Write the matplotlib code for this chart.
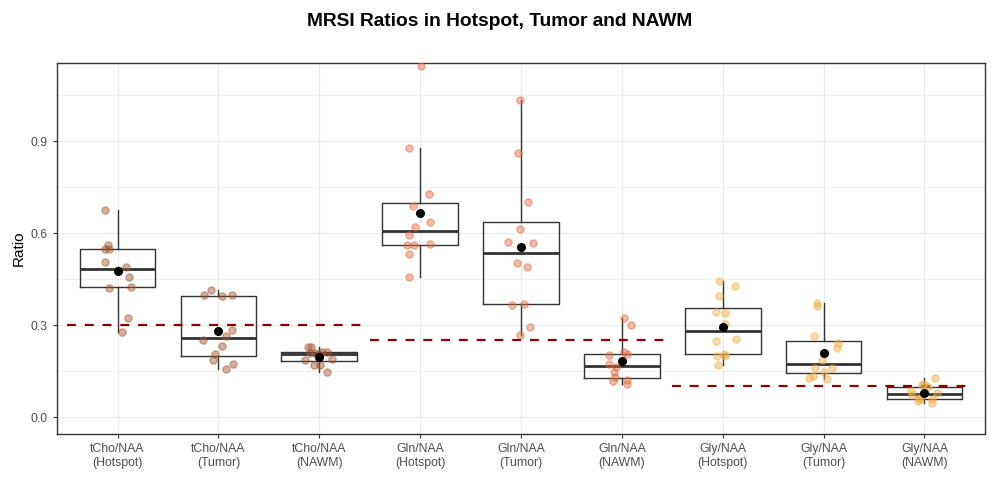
import numpy as np
import matplotlib
matplotlib.use('Agg')
from matplotlib import pyplot as plt

plt.rcParams['font.family'] = ['Liberation Sans', 'DejaVu Sans']

# categories (x tick labels)
labels = ['tCho/NAA\n(Hotspot)', 'tCho/NAA\n(Tumor)', 'tCho/NAA\n(NAWM)',
          'Gln/NAA\n(Hotspot)', 'Gln/NAA\n(Tumor)', 'Gln/NAA\n(NAWM)',
          'Gly/NAA\n(Hotspot)', 'Gly/NAA\n(Tumor)', 'Gly/NAA\n(NAWM)']

# ratio values per group
tcho_hotspot = [0.674, 0.561, 0.548, 0.548, 0.505, 0.489, 0.457, 0.421,
                0.424, 0.323, 0.279, 0.480]
tcho_tumor = [0.414, 0.398, 0.395, 0.398, 0.284, 0.264, 0.251, 0.232,
              0.205, 0.186, 0.173, 0.157]
tcho_nawm = [0.230, 0.230, 0.210, 0.209, 0.211, 0.211, 0.187, 0.191,
             0.169, 0.169, 0.146, 0.205]
gln_hotspot = [1.146, 0.878, 0.728, 0.689, 0.637, 0.621, 0.595, 0.560,
               0.562, 0.565, 0.533, 0.458]
gln_tumor = [1.035, 0.862, 0.702, 0.615, 0.572, 0.569, 0.503, 0.490,
             0.366, 0.369, 0.295, 0.269]
gln_nawm = [0.322, 0.302, 0.213, 0.205, 0.203, 0.172, 0.164, 0.148,
            0.131, 0.118, 0.122, 0.109]
gly_hotspot = [0.445, 0.428, 0.396, 0.344, 0.340, 0.304, 0.249, 0.256,
               0.200, 0.207, 0.200, 0.171]
gly_tumor = [0.371, 0.364, 0.265, 0.243, 0.226, 0.187, 0.161, 0.161,
             0.148, 0.135, 0.128, 0.125]
gly_nawm = [0.128, 0.109, 0.104, 0.084, 0.080, 0.072, 0.063, 0.059,
            0.053, 0.060, 0.047, 0.098]

groups = [tcho_hotspot, tcho_tumor, tcho_nawm, gln_hotspot, gln_tumor,
          gln_nawm, gly_hotspot, gly_tumor, gly_nawm]

# horizontal jitter of each point as seen in the figure (category units)
jitter = [
    [-0.12, -0.09, -0.12, -0.08, -0.12, 0.08, 0.11, -0.08, 0.13, 0.10, 0.04, 0.0],
    [-0.07, -0.14, 0.04, 0.13, 0.13, 0.08, -0.15, 0.04, -0.03, -0.05, 0.14, 0.08],
    [-0.11, -0.08, -0.09, -0.04, 0.03, 0.08, -0.14, 0.13, -0.05, 0.01, 0.08, 0.0],
    [0.01, -0.11, 0.09, -0.07, 0.10, -0.05, -0.11, -0.13, -0.06, 0.10, -0.11, -0.11],
    [-0.01, -0.03, 0.07, -0.01, -0.13, 0.12, -0.04, 0.06, -0.09, 0.03, 0.09, -0.01],
    [0.02, 0.09, 0.02, 0.05, -0.13, -0.13, -0.06, -0.08, -0.07, -0.09, 0.05, 0.05],
    [-0.04, 0.12, -0.04, -0.07, 0.02, 0.02, -0.07, 0.13, -0.06, 0.01, 0.02, -0.05],
    [-0.07, -0.07, -0.10, 0.14, 0.13, -0.02, -0.09, 0.08, 0.0, -0.11, -0.14, 0.03],
    [0.10, 0.0, -0.02, -0.13, 0.12, -0.12, -0.05, -0.04, -0.06, 0.07, 0.07, 0.03],
]

metabolite_colors = ['#A0522D', '#E0693F', '#EDAD40']

# reference (NAWM-like) threshold lines per metabolite
ref_levels = [0.30, 0.25, 0.10]

fig, ax = plt.subplots(figsize=(10, 5), dpi=100)
fig.subplots_adjust(left=0.057, right=0.985, bottom=0.132, top=0.874)

pos = np.arange(1, len(groups) + 1)
ax.boxplot(groups, positions=pos, widths=0.75, showfliers=False,
           showcaps=False, whis=1.5,
           boxprops=dict(color='#333333', linewidth=1.0),
           whiskerprops=dict(color='#333333', linewidth=1.0),
           medianprops=dict(color='#333333', linewidth=2.0),
           zorder=2)

for k, lev in enumerate(ref_levels):
    start = 3 * k + 0.5
    ax.plot([start, start + 2.93], [lev, lev], color='#8B0000', lw=1.6,
            dashes=(4, 4), zorder=3)

for i, vals in enumerate(groups):
    col = metabolite_colors[i // 3]
    xs = pos[i] + np.array(jitter[i])
    ax.plot(xs, vals, 'o', ms=5.2, color=col, mec=col, mew=1.0,
            alpha=0.45, zorder=4)
    ax.plot(pos[i], np.mean(vals), 'o', ms=5.5, color='black', zorder=5)

ax.set_xlim(0.4, 9.6)
ax.set_ylim(-0.055, 1.155)
ax.set_yticks([0.0, 0.3, 0.6, 0.9])
ax.set_yticks([0.15, 0.45, 0.75, 1.05], minor=True)
ax.set_yticklabels(['0.0', '0.3', '0.6', '0.9'])
ax.set_xticks(pos)
ax.set_xticklabels(labels)
ax.grid(True, which='major', color='#EBEBEB', lw=0.9, zorder=0)
ax.grid(True, which='minor', axis='y', color='#EBEBEB', lw=0.5, zorder=0)
ax.set_axisbelow(True)
ax.tick_params(axis='both', which='major', length=3, width=0.8,
               color='#333333', labelcolor='#4D4D4D', labelsize=8.8)
ax.tick_params(axis='y', which='minor', length=0)
for sp in ax.spines.values():
    sp.set_color('#333333')
    sp.set_linewidth(1.0)

ax.set_ylabel('Ratio', fontsize=11)
fig.suptitle('MRSI Ratios in Hotspot, Tumor and NAWM', fontsize=13.8,
             fontweight='bold', x=0.5, y=0.974)

plt.savefig('out.png')
